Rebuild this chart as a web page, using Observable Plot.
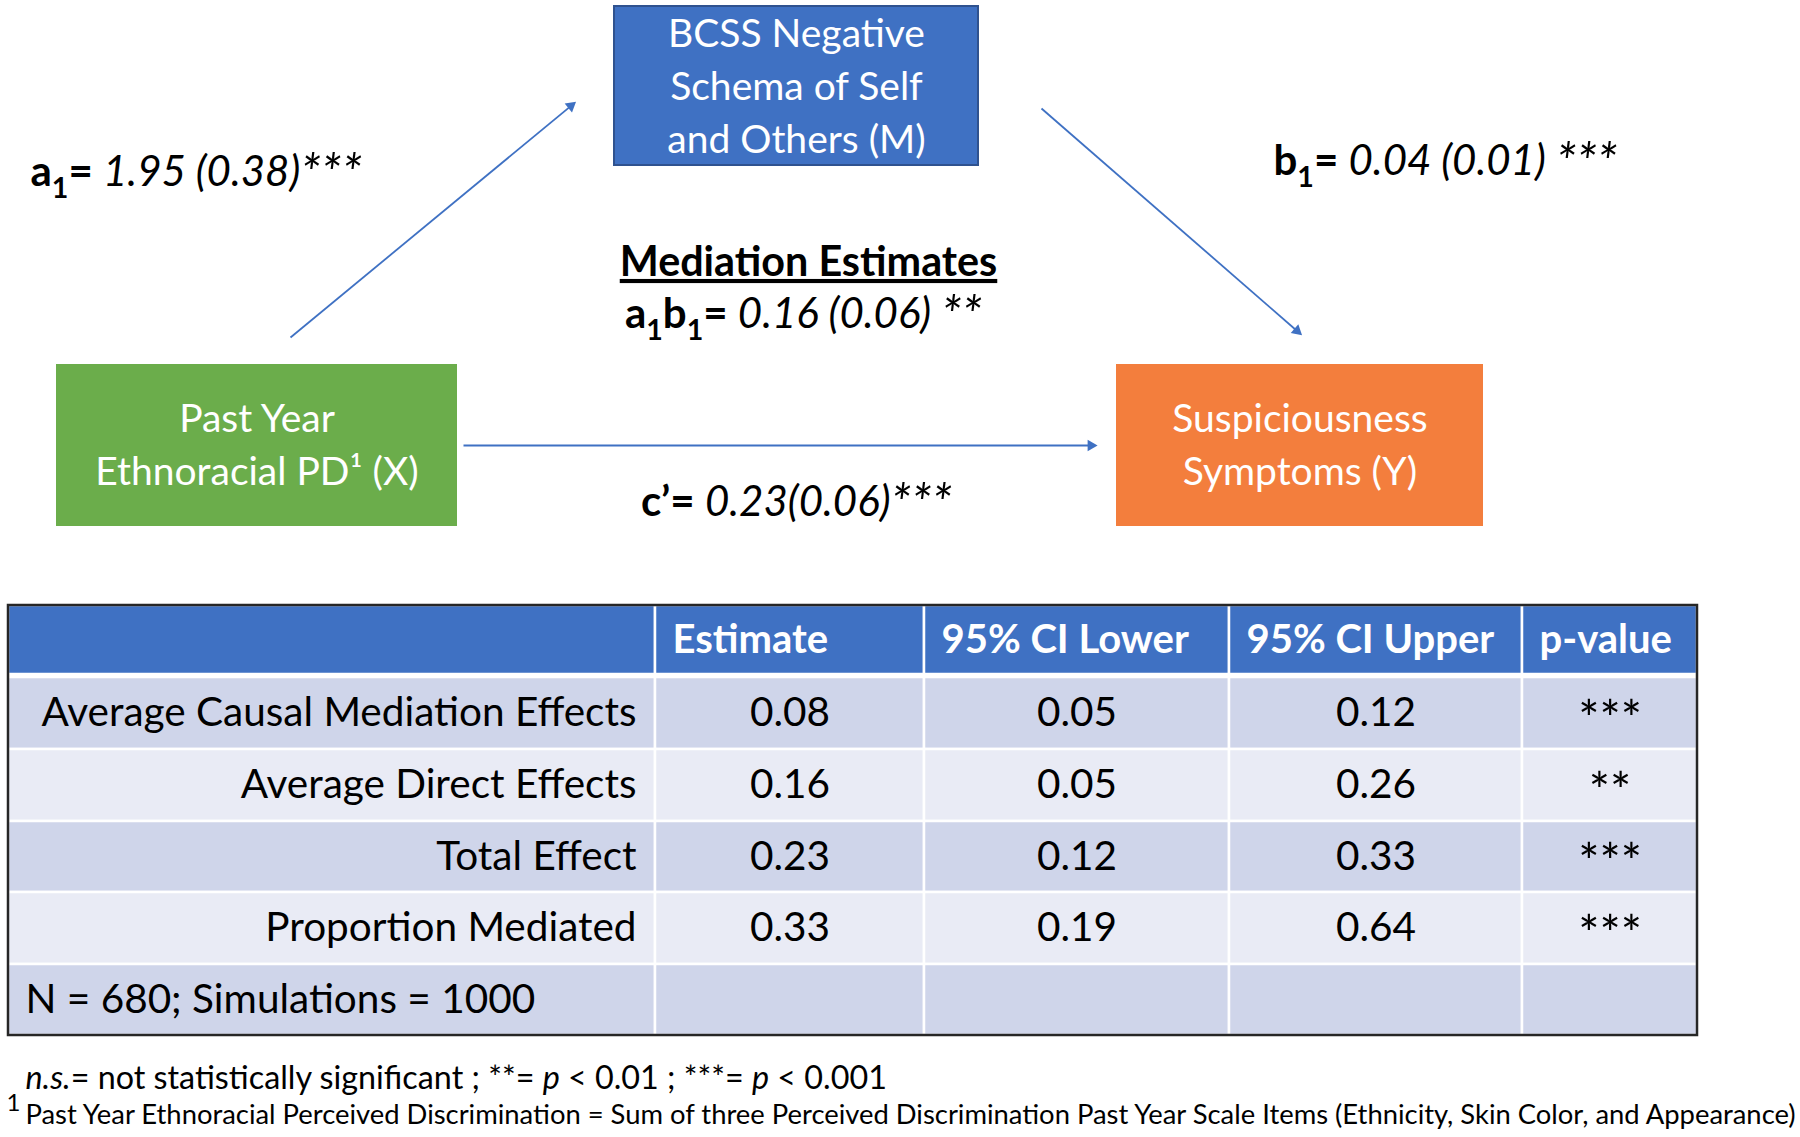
<!DOCTYPE html>
<html><head><meta charset="utf-8">
<script src="https://cdn.jsdelivr.net/npm/d3@7"></script>
<script src="https://cdn.jsdelivr.net/npm/@observablehq/plot@0.6"></script>
<style>
html,body{margin:0;padding:0;background:#fff;}
#chart svg{display:block;}
</style></head><body><div id="chart"></div>
<script>
// ---------------- data ----------------
const nodeNames = ["X", "M", "Y"];
const nodeLabels = ["Past Year\nEthnoracial PD¹ (X)", "BCSS Negative\nSchema of Self\nand Others (M)", "Suspiciousness\nSymptoms (Y)"];
const pathNames = ["a1", "b1", "c'"];
const pathFrom = ["X", "M", "X"];
const pathTo = ["M", "Y", "Y"];
const pathEstimates = ["1.95", "0.04", "0.23"];
const pathSE = ["0.38", "0.01", "0.06"];
const pathSig = ["***", "***", "***"];
const indirectTitle = "Mediation Estimates";
const indirectEstimate = "0.16", indirectSE = "0.06", indirectSig = "**";
const tableColumns = ["Estimate", "95% CI Lower", "95% CI Upper", "p-value"];
const effectNames = ["Average Causal Mediation Effects", "Average Direct Effects", "Total Effect", "Proportion Mediated"];
const estimates = [0.08, 0.16, 0.23, 0.33];
const ciLower = [0.05, 0.05, 0.12, 0.19];
const ciUpper = [0.12, 0.26, 0.33, 0.64];
const pStars = ["***", "**", "***", "***"];
const sampleNote = "N = 680; Simulations = 1000";
const sigLevels = ["**", "***"];
const sigThresholds = ["0.01", "0.001"];
const footnoteMark = "1";
const footnoteText = "Past Year Ethnoracial Perceived Discrimination = Sum of three Perceived Discrimination Past Year Scale Items (Ethnicity, Skin Color, and Appearance)";

// ---------------- layout / style ----------------
const W = 1800, H = 1137;
const FONT = "Lato, 'Open Sans', sans-serif";
const BLUE = "#3F71C3", GREEN = "#6BAD4B", ORANGE = "#F37E3D";
const BAND1 = "#CFD5EA", BAND2 = "#E9EBF5";
const nodeBox = {X: [57, 456, 365, 525], M: [614, 978, 6, 165], Y: [1117, 1482, 365, 525]};
const nodeTextY = {X: 441, M: 83, Y: 441};
const nodeFill = {X: GREEN, M: BLUE, Y: ORANGE};
const nodeStroke = {X: GREEN, M: "#2F528F", Y: ORANGE};
const arrowEnds = {"a1": [290, 337, 577, 100], "b1": [1041, 108, 1303, 336], "c'": [463, 445, 1099, 445]};
const labelPos = {"a1": [30, 172], "b1": [1273, 161], "c'": [796, 502], title: [808, 262], ab: [803, 314]};
const colEdges = [8, 655, 924, 1229, 1522, 1697];
const headerY = [605, 674];
const rowEdges = [677, 749, 821, 892, 964, 1035];
const FS_BOX = 39, FS_LABEL = 42, FS_SIG = 52, FS_TITLE = 41.3, FS_TABLE = 40.5, FS_HEAD = 40, FS_STARS = 50, FS_FOOT1 = 32.3, FS_FOOT2 = 27.4;

// ---------------- derived tables ----------------
const nodes = nodeNames.map((n, i) => ({name: n, label: nodeLabels[i], box: nodeBox[n], fill: nodeFill[n], stroke: nodeStroke[n], ty: nodeTextY[n]}));

const arrowR = 5.5;
const triHalf = Math.sqrt(arrowR * arrowR * Math.PI / (3 * Math.sqrt(3)));
const arrows = pathNames.map(p => {
  const [x1, y1, x2, y2] = arrowEnds[p];
  const len = Math.hypot(x2 - x1, y2 - y1), ux = (x2 - x1) / len, uy = (y2 - y1) / len;
  return {x1, y1, x2: x2 - ux * triHalf * 2.6, y2: y2 - uy * triHalf * 2.6,
    hx: x2 - ux * triHalf * 2, hy: y2 - uy * triHalf * 2,
    rot: Math.atan2(ux, -uy) * 180 / Math.PI};
});

// rich text labels: segments {t, b, i, sub, u, fs, drop}
function coefSegs(name, est, se, sig, gap1, gap2) {
  const segs = [];
  for (const ch of name) {
    if (/[0-9]/.test(ch)) segs.push({t: ch, b: true, sub: true});
    else segs.push({t: ch === "'" ? "’" : ch, b: true});
  }
  segs.push({t: "= ", b: true});
  segs.push({t: est + gap1 + "(" + se + ")" + gap2, i: true});
  segs.push({t: sig, i: true, fs: FS_SIG, drop: 6});
  return segs;
}
const withText = d => ({...d, x: labelPos[d.key][0], y: labelPos[d.key][1], text: d.segs.map(s => s.t).join("")});
const leftLabels = [
  {key: "a1", segs: coefSegs("a1", pathEstimates[0], pathSE[0], pathSig[0], " ", "")},
  {key: "b1", segs: coefSegs("b1", pathEstimates[1], pathSE[1], pathSig[1], " ", " ")}
].map(withText);
const midLabels = [
  {key: "c'", segs: coefSegs("c'", pathEstimates[2], pathSE[2], pathSig[2], "", "")},
  {key: "title", segs: [{t: indirectTitle, b: true, u: true, fs: FS_TITLE}]},
  {key: "ab", segs: coefSegs("a1b1", indirectEstimate, indirectSE, indirectSig, " ", " ")}
].map(withText);

const footSegs = [
  {t: "n.s.", i: true}, {t: "= not statistically significant ; " + sigLevels[0] + "= "}, {t: "p", i: true},
  {t: " < " + sigThresholds[0] + " ; " + sigLevels[1] + "= "}, {t: "p", i: true}, {t: " < " + sigThresholds[1]}
];

const rowMid = i => (rowEdges[i] + rowEdges[i + 1]) / 2;
const colMid = j => (colEdges[j] + colEdges[j + 1]) / 2;
const cells = [];
for (let c = 0; c < 5; c++) cells.push({x1: colEdges[c], x2: colEdges[c + 1], y1: headerY[0], y2: headerY[1], fill: BLUE});
for (let r = 0; r < 5; r++) for (let c = 0; c < 5; c++)
  cells.push({x1: colEdges[c], x2: colEdges[c + 1], y1: rowEdges[r], y2: rowEdges[r + 1], fill: r % 2 === 0 ? BAND1 : BAND2});
const headerTexts = tableColumns.map((t, i) => ({t, x: colEdges[i + 1] + 17, y: (headerY[0] + headerY[1]) / 2}));
const rowTexts = effectNames.map((t, i) => ({t, x: colEdges[1] - 19, y: rowMid(i)}));
const valueTexts = [];
effectNames.forEach((_, i) => {
  [estimates[i], ciLower[i], ciUpper[i]].forEach((v, j) => valueTexts.push({t: v.toFixed(2), x: colMid(j + 1), y: rowMid(i)}));
});
const starTexts = pStars.map((t, i) => ({t, x: colMid(4), y: rowMid(i) + 7}));

// ---------------- plot ----------------
const chart = Plot.plot({
  width: W, height: H, margin: 0,
  x: {domain: [0, W], range: [0, W], axis: null},
  y: {domain: [0, H], range: [0, H], axis: null},
  color: {type: "identity"},
  style: {fontFamily: FONT, background: "white", color: "black"},
  marks: [
    Plot.rect(nodes, {x1: d => d.box[0], x2: d => d.box[1], y1: d => d.box[2], y2: d => d.box[3], fill: "fill", stroke: "stroke", strokeWidth: 2}),
    Plot.text(nodes, {x: d => (d.box[0] + d.box[1]) / 2, y: "ty", text: "label", fill: "white", fontSize: FS_BOX, lineHeight: 53 / FS_BOX}),
    Plot.link(arrows, {x1: "x1", y1: "y1", x2: "x2", y2: "y2", stroke: BLUE, strokeWidth: 1.8}),
    Plot.dot(arrows, {x: "hx", y: "hy", symbol: "triangle2", r: arrowR, rotate: "rot", fill: BLUE, stroke: null}),
    Plot.text(leftLabels, {x: "x", y: "y", text: "text", textAnchor: "start", fontSize: FS_LABEL, fill: "black", ariaDescription: "richleft"}),
    Plot.text(midLabels, {x: "x", y: "y", text: "text", textAnchor: "middle", fontSize: FS_LABEL, fill: "black", ariaDescription: "richmid"}),
    Plot.rect(cells, {x1: "x1", x2: "x2", y1: "y1", y2: "y2", fill: "fill", stroke: "white", strokeWidth: 2.5}),
    Plot.rect([0], {x1: colEdges[0], x2: colEdges[5], y1: headerY[0], y2: rowEdges[5], fill: null, stroke: "#262626", strokeWidth: 2.5}),
    Plot.text(headerTexts, {x: "x", y: "y", text: "t", textAnchor: "start", fill: "white", fontWeight: "bold", fontSize: FS_HEAD}),
    Plot.text(rowTexts, {x: "x", y: "y", text: "t", textAnchor: "end", fill: "black", fontSize: FS_TABLE}),
    Plot.text([sampleNote], {x: 25, y: rowMid(4), text: d => d, textAnchor: "start", fill: "black", fontSize: FS_TABLE}),
    Plot.text(valueTexts, {x: "x", y: "y", text: "t", fill: "black", fontSize: FS_TABLE}),
    Plot.text(starTexts, {x: "x", y: "y", text: "t", fill: "black", fontSize: FS_STARS}),
    Plot.text([footSegs.map(s => s.t).join("")], {x: 25, y: 1078, text: d => d, textAnchor: "start", fill: "black", fontSize: FS_FOOT1, ariaDescription: "foot1"}),
    Plot.text([footnoteMark], {x: 6, y: 1103, text: d => d, textAnchor: "start", fill: "black", fontSize: 24}),
    Plot.text([footnoteText], {x: 25, y: 1115, text: d => d, textAnchor: "start", fill: "black", fontSize: FS_FOOT2})
  ]
});
document.getElementById("chart").append(chart);

// rich-text post-processing (bold/italic/subscript segments)
function applySegs(textEl, segs, fs) {
  const t = d3.select(textEl);
  t.text(null);
  let shift = 0;
  for (const s of segs) {
    const ts = t.append("tspan").text(s.t);
    if (s.b) ts.attr("font-weight", "bold");
    if (s.i) ts.attr("font-style", "italic");
    if (s.u) ts.style("text-decoration", "underline");
    if (s.fs) ts.attr("font-size", s.fs);
    const want = s.sub ? fs * 0.28 : (s.drop || 0);
    if (want !== shift) { ts.attr("dy", want - shift); shift = want; }
    if (s.sub) ts.attr("font-size", fs * 0.68);
  }
}
const root = d3.select(chart);
root.selectAll('g[aria-description="richleft"] text').each(function (_, i) { applySegs(this, leftLabels[i].segs, FS_LABEL); });
root.selectAll('g[aria-description="richmid"] text').each(function (_, i) { applySegs(this, midLabels[i].segs, FS_LABEL); });
root.selectAll('g[aria-description="foot1"] text').each(function () { applySegs(this, footSegs, FS_FOOT1); });
</script></body></html>
